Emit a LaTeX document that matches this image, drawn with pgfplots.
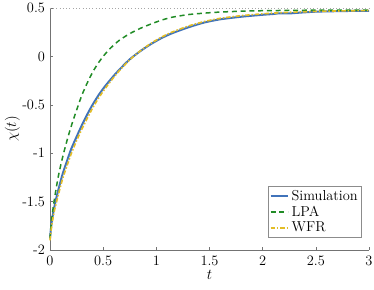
\documentclass[border=0pt]{standalone}
\usepackage{pgfplots}
\pgfplotsset{compat=1.18}
\definecolor{simblue}{rgb}{0.25,0.45,0.73}
\definecolor{lpagreen}{rgb}{0.13,0.55,0.15}
\definecolor{wfryellow}{rgb}{0.89,0.74,0.15}
\begin{document}
\begin{tikzpicture}
\useasboundingbox (-40pt,-31.2pt) rectangle (259.2pt,200pt);
\begin{axis}[
  scale only axis,
  width=255.2pt, height=193.6pt,
  xmin=0, xmax=3, ymin=-2, ymax=0.5,
  axis x line=bottom, axis y line=left,
  axis line style={-, black!55, line width=0.4pt},
  tick align=inside,
  major tick length=2.4pt,
  tick style={black!55, line width=0.4pt},
  xtick={0,0.5,1,1.5,2,2.5,3},
  xticklabels={0,0.5,1,1.5,2,2.5,3},
  ytick={-2,-1.5,-1,-0.5,0,0.5},
  yticklabels={-2,-1.5,-1,-0.5,0,0.5},
  tick label style={font=\fontsize{11.5}{13}\selectfont},
  label style={font=\fontsize{11.5}{13}\selectfont},
  xticklabel style={yshift=-1pt},
  yticklabel style={xshift=-0.5pt},
  xlabel={$t$},
  ylabel={$\chi(t)$},
  xlabel style={yshift=3pt},
  ylabel style={yshift=-5pt},
  clip=false,
  legend style={at={(rel axis cs:0.978,0.05)}, anchor=south east,
    draw=black!45, font=\fontsize{11.5}{13}\selectfont,
    inner sep=1.2pt, row sep=-1pt,
    legend cell align=left},
  legend image code/.code={\draw[#1] (0pt,0pt) -- (14pt,0pt);},
]
\addplot[gray!70, dotted, line width=0.6pt, forget plot] coordinates {(0,0.5) (3,0.5)};
\addplot[simblue, line width=1.6pt, smooth, tension=0.4] coordinates {
(0,-1.88) (0.01,-1.77) (0.02,-1.68) (0.04,-1.56) (0.06,-1.46) (0.09,-1.33)
(0.12,-1.21) (0.16,-1.08) (0.20,-0.955) (0.25,-0.83) (0.30,-0.71) (0.35,-0.60)
(0.40,-0.50) (0.46,-0.395) (0.52,-0.305) (0.60,-0.20) (0.66,-0.128) (0.75,-0.03)
(0.85,0.055) (0.95,0.128) (1.05,0.19) (1.15,0.24) (1.3,0.30) (1.45,0.35)
(1.6,0.383) (1.8,0.41) (2.0,0.43) (2.1,0.438) (2.15,0.445) (2.25,0.444)
(2.35,0.452) (2.5,0.462) (2.65,0.466) (2.8,0.469) (3.0,0.471)
};
\addlegendentry{Simulation}
\addplot[lpagreen, line width=1.2pt, dash pattern=on 4pt off 3pt, smooth, tension=0.4] coordinates {
(0,-1.88) (0.01,-1.74) (0.02,-1.645) (0.03,-1.56) (0.045,-1.45) (0.06,-1.35)
(0.08,-1.23) (0.11,-1.08) (0.14,-0.95) (0.17,-0.83) (0.20,-0.72) (0.25,-0.555)
(0.30,-0.40) (0.35,-0.275) (0.40,-0.165) (0.45,-0.075) (0.50,0.00) (0.564,0.08)
(0.65,0.165) (0.75,0.235) (0.85,0.29) (0.95,0.335) (1.05,0.375) (1.15,0.405)
(1.3,0.432) (1.474,0.449) (1.6,0.458) (1.8,0.467) (2.0,0.472) (2.3,0.476)
(2.6,0.478) (3.0,0.479)
};
\addlegendentry{LPA}
\addplot[wfryellow, line width=1.3pt, dash pattern=on 3.5pt off 1.5pt on 1.2pt off 1.5pt, smooth, tension=0.4] coordinates {
(0,-1.90) (0.01,-1.80) (0.02,-1.72) (0.04,-1.60) (0.06,-1.51) (0.09,-1.38)
(0.12,-1.26) (0.16,-1.13) (0.20,-1.005) (0.25,-0.87) (0.30,-0.75) (0.35,-0.64)
(0.40,-0.535) (0.46,-0.425) (0.52,-0.33) (0.60,-0.215) (0.66,-0.138) (0.75,-0.035)
(0.85,0.058) (0.95,0.135) (1.05,0.20) (1.15,0.252) (1.3,0.313) (1.45,0.36)
(1.6,0.393) (1.8,0.421) (2.0,0.44) (2.2,0.453) (2.5,0.465) (2.8,0.471) (3.0,0.474)
};
\addlegendentry{WFR}
\end{axis}
\end{tikzpicture}
\end{document}
